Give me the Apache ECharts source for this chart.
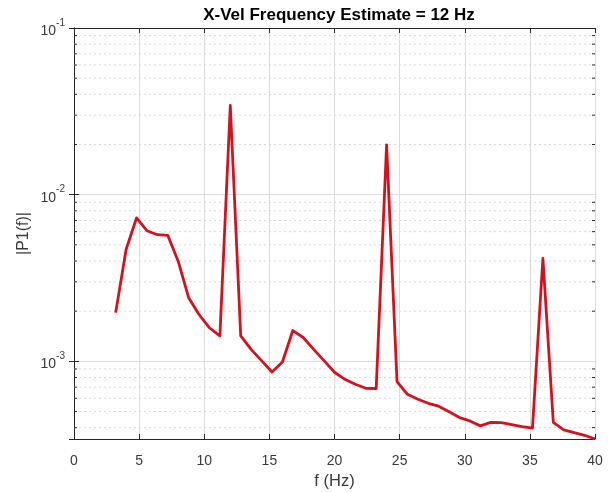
<!DOCTYPE html>
<html>
<head>
<meta charset="utf-8">
<script src="https://cdn.jsdelivr.net/npm/echarts@6/dist/echarts.min.js"></script>
<style>html,body{margin:0;padding:0;background:#fff;}#c{width:614px;height:492px;}</style>
</head>
<body>
<div id="c"></div>
<script>
const freqs = [3.2,4.0,4.8,5.6,6.4,7.2,8.0,8.8,9.6,10.4,11.2,12.0,12.8,13.6,14.4,15.2,16.0,16.8,17.6,18.4,19.2,20.0,20.8,21.6,22.4,23.2,24.0,24.8,25.6,26.4,27.2,28.0,28.8,29.6,30.4,31.2,32.0,32.8,33.6,34.4,35.2,36.0,36.8,37.6,38.4,39.2,40.0];
const p1 = [1.96e-3,4.69e-3,7.25e-3,6.08e-3,5.75e-3,5.7e-3,3.99e-3,2.41e-3,1.91e-3,1.59e-3,1.42e-3,3.43e-2,1.42e-3,1.18e-3,1.01e-3,8.63e-4,9.9e-4,1.53e-3,1.39e-3,1.18e-3,1.01e-3,8.6e-4,7.8e-4,7.28e-4,6.89e-4,6.87e-4,1.99e-2,7.55e-4,6.34e-4,5.92e-4,5.6e-4,5.38e-4,4.98e-4,4.6e-4,4.39e-4,4.1e-4,4.3e-4,4.29e-4,4.17e-4,4.06e-4,3.98e-4,4.14e-3,4.3e-4,3.88e-4,3.74e-4,3.6e-4,3.42e-4];
const xTicks = [0,5,10,15,20,25,30,35,40];
const minorY = [4e-4,5e-4,6e-4,7e-4,8e-4,9e-4,2e-3,3e-3,4e-3,5e-3,6e-3,7e-3,8e-3,9e-3,2e-2,3e-2,4e-2,5e-2,6e-2,7e-2,8e-2,9e-2];
const yMin = 3.42e-4, yMax = 0.1, xMin = 0, xMax = 40;

const axisColor = '#262626';
const labelColor = '#3a3a3a';
const font = 'Liberation Sans, Arial, Helvetica, sans-serif';
const chart = echarts.init(document.getElementById('c'));

function yLabel(v) {
  const e = Math.log10(v);
  const r = Math.round(e);
  if (Math.abs(e - r) > 1e-6) return '';
  return '{a|10}{b|' + r + '}';
}

chart.setOption({
  animation: false,
  title: {
    text: 'X-Vel Frequency Estimate = 12 Hz',
    left: 334, top: 2, textAlign: 'center',
    textStyle: {fontFamily: font, fontSize: 17, fontWeight: 'bold', color: '#000'}
  },
  grid: {left: 74, right: 19, top: 28, bottom: 53, containLabel: false, outerBoundsMode: 'none'},
  xAxis: [{
    type: 'value', min: xMin, max: xMax, interval: 5,
    name: 'f (Hz)', nameLocation: 'middle', nameGap: 33,
    nameTextStyle: {fontFamily: font, fontSize: 16.5, color: labelColor},
    axisLine: {show: true, lineStyle: {color: axisColor, width: 1}},
    axisTick: {show: true, inside: true, length: 5, lineStyle: {color: axisColor}},
    axisLabel: {fontFamily: font, fontSize: 14, color: labelColor, margin: 15},
    splitLine: {show: true, lineStyle: {color: '#dcdcdc', width: 1}}
  }, {
    type: 'value', min: xMin, max: xMax, interval: 5, position: 'top',
    axisLine: {show: true, lineStyle: {color: axisColor, width: 1}},
    axisTick: {show: true, inside: true, length: 5, lineStyle: {color: axisColor}},
    axisLabel: {show: false}, splitLine: {show: false}
  }],
  yAxis: [{
    type: 'log', logBase: 10, min: yMin, max: yMax,
    name: '|P1(f)|', nameLocation: 'middle', nameGap: 42, nameMoveOverlap: false,
    nameTextStyle: {fontFamily: font, fontSize: 16, color: labelColor},
    axisLine: {show: true, lineStyle: {color: axisColor, width: 1}},
    axisTick: {show: true, inside: true, length: 5, lineStyle: {color: axisColor}},
    axisLabel: {
      fontFamily: font, color: labelColor, margin: 9, showMinLabel: false,
      formatter: yLabel,
      rich: {
        a: {fontFamily: font, fontSize: 14, color: labelColor, lineHeight: 20, verticalAlign: 'bottom'},
        b: {fontFamily: font, fontSize: 10, color: labelColor, lineHeight: 20, verticalAlign: 'top'}
      }
    },
    splitLine: {show: true, lineStyle: {color: '#dcdcdc', width: 1}}
  }, {
    type: 'log', logBase: 10, min: yMin, max: yMax, position: 'right',
    axisLine: {show: true, lineStyle: {color: axisColor, width: 1}},
    axisTick: {show: true, inside: true, length: 5, lineStyle: {color: axisColor}},
    axisLabel: {show: false}, splitLine: {show: false}
  }],
  series: [{
    type: 'custom',
    silent: true,
    z: 1,
    xAxisIndex: 0, yAxisIndex: 0,
    data: minorY.map(v => [xMin, v]),
    renderItem: function (params, api) {
      const v = api.value(1);
      const l = api.coord([xMin, v]);
      const r = api.coord([xMax, v]);
      return {
        type: 'group',
        children: [
          {type: 'line', shape: {x1: l[0], y1: l[1], x2: r[0], y2: r[1]},
           style: {stroke: '#d9d9d9', lineWidth: 1, lineDash: [2, 3]}},
          {type: 'line', shape: {x1: l[0], y1: l[1], x2: l[0] + 3, y2: l[1]},
           style: {stroke: axisColor, lineWidth: 1}},
          {type: 'line', shape: {x1: r[0] - 3, y1: r[1], x2: r[0], y2: r[1]},
           style: {stroke: axisColor, lineWidth: 1}}
        ]
      };
    }
  }, {
    type: 'line',
    xAxisIndex: 0, yAxisIndex: 0,
    data: freqs.map((f, i) => [f, p1[i]]),
    showSymbol: false, symbol: 'none',
    z: 3,
    lineStyle: {color: '#d4111d', width: 2.8, join: 'round'}
  }]
});
</script>
</body>
</html>
